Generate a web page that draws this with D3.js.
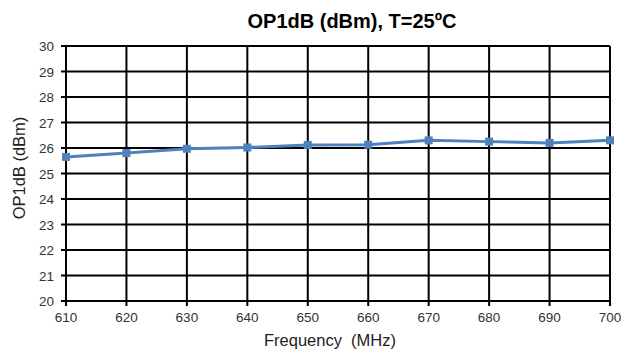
<!DOCTYPE html>
<html>
<head>
<meta charset="utf-8">
<script src="https://cdn.jsdelivr.net/npm/d3@7"></script>
<style>
  body { margin: 0; background: #fff; }
  svg { font-family: "Liberation Sans", Arial, sans-serif; }
</style>
</head>
<body>
<svg width="626" height="356"></svg>
<script>
// chart data
const freqs = [610, 620, 630, 640, 650, 660, 670, 680, 690, 700];
const op1db = [25.65, 25.8, 25.97, 26.02, 26.12, 26.13, 26.3, 26.25, 26.2, 26.3];
const yTicks = [20, 21, 22, 23, 24, 25, 26, 27, 28, 29, 30];

const svg = d3.select('svg'),
    margin = {top: 46, right: 16, bottom: 55, left: 66},
    width = +svg.attr('width'),
    height = +svg.attr('height');

const x = d3.scaleLinear().domain([610, 700]).range([margin.left, width - margin.right]);
const y = d3.scaleLinear().domain([20, 30]).range([height - margin.bottom, margin.top]);

// grid
svg.append('g').selectAll('line.h')
    .data(yTicks)
    .enter().append('line')
    .attr('x1', x(610) - 5).attr('x2', x(700))
    .attr('y1', d => y(d)).attr('y2', d => y(d))
    .attr('stroke', '#000').attr('stroke-width', 2);

svg.append('g').selectAll('line.v')
    .data(freqs)
    .enter().append('line')
    .attr('x1', d => x(d)).attr('x2', d => x(d))
    .attr('y1', y(30)).attr('y2', y(20) + 5)
    .attr('stroke', '#000').attr('stroke-width', 2);

// tick labels
svg.append('g').selectAll('text')
    .data(yTicks)
    .enter().append('text')
    .attr('x', x(610) - 12)
    .attr('y', d => y(d) + 5)
    .attr('text-anchor', 'end')
    .attr('font-size', 13.5)
    .attr('fill', '#333')
    .text(d => d);

svg.append('g').selectAll('text')
    .data(freqs)
    .enter().append('text')
    .attr('x', d => x(d))
    .attr('y', y(20) + 21)
    .attr('text-anchor', 'middle')
    .attr('font-size', 13.5)
    .attr('fill', '#333')
    .text(d => d);

// series
const line = d3.line()
    .x((d, i) => x(freqs[i]))
    .y(d => y(d));

svg.append('path')
    .datum(op1db)
    .attr('d', line)
    .attr('fill', 'none')
    .attr('stroke', '#4f81bd')
    .attr('stroke-width', 3);

svg.append('g').selectAll('rect')
    .data(op1db)
    .enter().append('rect')
    .attr('x', (d, i) => x(freqs[i]) - 4)
    .attr('y', d => y(d) - 4)
    .attr('width', 8).attr('height', 8)
    .attr('fill', '#4f81bd');

// titles
svg.append('text')
    .attr('x', 352).attr('y', 28)
    .attr('text-anchor', 'middle')
    .attr('font-size', 20).attr('font-weight', 'bold')
    .attr('fill', '#000')
    .text('OP1dB (dBm), T=25ºC');

svg.append('text')
    .attr('x', 330).attr('y', 346)
    .attr('text-anchor', 'middle')
    .attr('font-size', 16.5)
    .attr('fill', '#222')
    .attr('xml:space', 'preserve')
    .text('Frequency  (MHz)');

svg.append('text')
    .attr('transform', 'translate(25,168) rotate(-90)')
    .attr('text-anchor', 'middle')
    .attr('font-size', 16.5)
    .attr('fill', '#222')
    .text('OP1dB (dBm)');
</script>
</body>
</html>
